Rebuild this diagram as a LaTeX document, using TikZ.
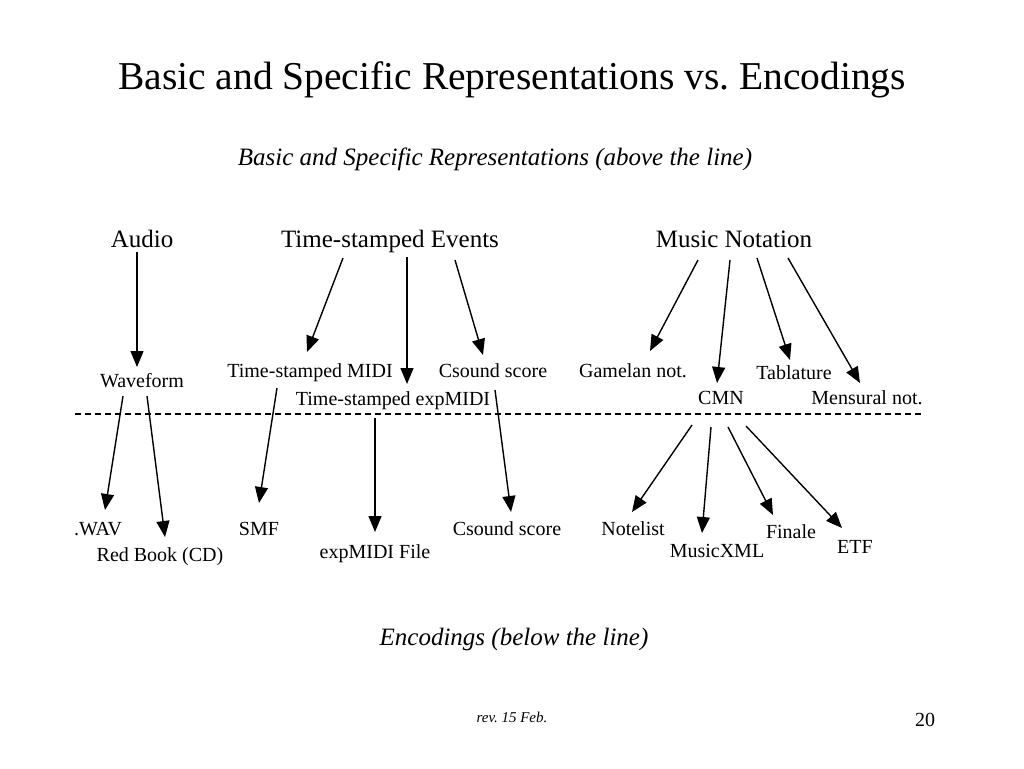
\documentclass[tikz,border=0pt]{standalone}
\usepackage{fontspec}
\setmainfont{Liberation Serif}
\usetikzlibrary{arrows.meta}
\begin{document}
\frenchspacing
\begin{tikzpicture}[x=1pt,y=-1pt,
  lbl/.style={anchor=base,inner sep=0pt,font=\fontsize{20}{24}\selectfont},
  head/.style={anchor=base,inner sep=0pt,font=\fontsize{25}{30}\selectfont},
  arr/.style={line width=1.4pt,-{Triangle[length=16pt,width=13pt]}},
  sep/.style={line width=1.1pt,dash pattern=on 6pt off 4pt}]
\fill[white] (0,0) rectangle (1024,768);
\useasboundingbox (0,0) rectangle (1024,768);
% titles
\node[anchor=base,inner sep=0pt,font=\fontsize{39.5}{48}\selectfont] (title) at (512,89) {Basic and Specific Representations vs.\ Encodings};
\node[anchor=base,inner sep=0pt,font=\fontsize{25}{30}\selectfont\itshape] (above) at (495,165) {Basic and Specific Representations (above the line)};
\node[anchor=base,inner sep=0pt,font=\fontsize{25}{30}\selectfont\itshape] (below) at (514,645) {Encodings (below the line)};
\node[anchor=base,inner sep=0pt,font=\fontsize{15}{18}\selectfont\itshape] (rev) at (512,722) {rev. 15 Feb.};
\node[anchor=base,inner sep=0pt,font=\fontsize{20}{24}\selectfont] (page) at (925,726) {20};
% level 1
\node[head] (audio) at (142,247) {Audio};
\node[head] (events) at (390,247) {Time-stamped Events};
\node[head] (notation) at (734,247) {Music Notation};
% level 2
\node[lbl] (wave) at (142,387) {Waveform};
\node[lbl] (tsmidi) at (310,377) {Time-stamped MIDI};
\node[lbl] (csound) at (493,377) {Csound score};
\node[lbl] (tsexp) at (393,405) {Time-stamped expMIDI};
\node[lbl] (gamelan) at (633,377) {Gamelan not.};
\node[lbl] (tab) at (794,379) {Tablature};
\node[lbl] (cmn) at (721,404) {CMN};
\node[lbl] (mens) at (867,404) {Mensural not.};
% separator
\coordinate (sepL) at (75,414);
\coordinate (sepR) at (921,414);
\draw[sep] (sepL) -- (sepR);
% level 3
\node[lbl] (wav) at (98,535) {.WAV};
\node[lbl] (redbook) at (160,561) {Red Book (CD)};
\node[lbl] (smf) at (259,535) {SMF};
\node[lbl] (expfile) at (375,558) {expMIDI File};
\node[lbl] (csfile) at (507,535) {Csound score};
\node[lbl] (notelist) at (633,535) {Notelist};
\node[lbl] (musicxml) at (717,557) {MusicXML};
\node[lbl] (finale) at (791,538) {Finale};
\node[lbl] (etf) at (855,553) {ETF};
% connector ends
\coordinate (audio-o) at (137,252);  \coordinate (wave-i) at (137,367);
\coordinate (ev-o1) at (343,258);    \coordinate (tsmidi-i) at (307,352);
\coordinate (ev-o2) at (407,257);    \coordinate (tsexp-i) at (407,384);
\coordinate (ev-o3) at (455,260);    \coordinate (csound-i) at (483,355);
\coordinate (mn-o1) at (698,260);    \coordinate (gamelan-i) at (650,351);
\coordinate (mn-o2) at (730,260);    \coordinate (cmn-i) at (717,383);
\coordinate (mn-o3) at (757,258);    \coordinate (tab-i) at (790,360);
\coordinate (mn-o4) at (788,258);    \coordinate (mens-i) at (860,383);
\coordinate (wave-o1) at (123,396);  \coordinate (wav-i) at (105,510);
\coordinate (wave-o2) at (147,396);  \coordinate (redbook-i) at (165,537);
\coordinate (tsmidi-o) at (277,388); \coordinate (smf-i) at (259,503);
\coordinate (tsexp-o) at (375,418);  \coordinate (expfile-i) at (375,532);
\coordinate (csound-o) at (495,390); \coordinate (csfile-i) at (511,512);
\coordinate (cmn-o1) at (692,425);   \coordinate (notelist-i) at (632,512);
\coordinate (cmn-o2) at (711,427);   \coordinate (musicxml-i) at (702,533);
\coordinate (cmn-o3) at (728,427);   \coordinate (finale-i) at (773,515);
\coordinate (cmn-o4) at (746,426);   \coordinate (etf-i) at (842,528);
% connectors
\draw[arr] (audio-o) -- (wave-i);
\draw[arr] (ev-o1) -- (tsmidi-i);
\draw[arr] (ev-o2) -- (tsexp-i);
\draw[arr] (ev-o3) -- (csound-i);
\draw[arr] (mn-o1) -- (gamelan-i);
\draw[arr] (mn-o2) -- (cmn-i);
\draw[arr] (mn-o3) -- (tab-i);
\draw[arr] (mn-o4) -- (mens-i);
\draw[arr] (wave-o1) -- (wav-i);
\draw[arr] (wave-o2) -- (redbook-i);
\draw[arr] (tsmidi-o) -- (smf-i);
\draw[arr] (tsexp-o) -- (expfile-i);
\draw[arr] (csound-o) -- (csfile-i);
\draw[arr] (cmn-o1) -- (notelist-i);
\draw[arr] (cmn-o2) -- (musicxml-i);
\draw[arr] (cmn-o3) -- (finale-i);
\draw[arr] (cmn-o4) -- (etf-i);
\end{tikzpicture}
\end{document}
